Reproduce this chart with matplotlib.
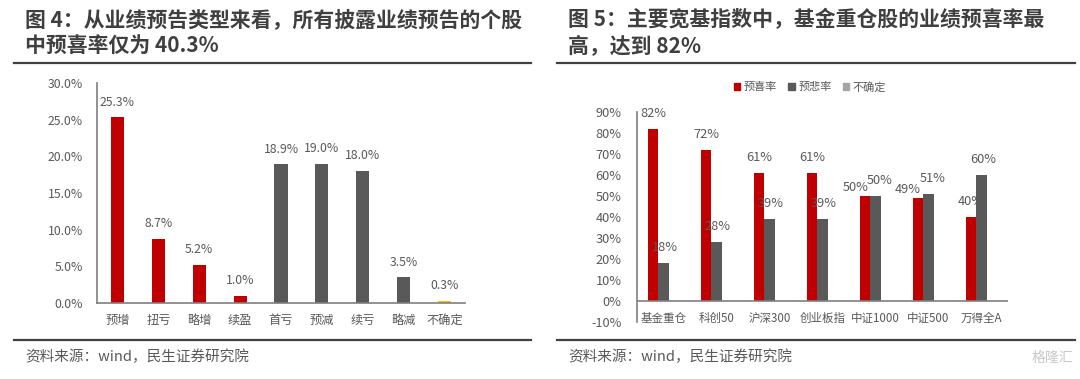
import matplotlib
matplotlib.use("Agg")
import matplotlib.pyplot as plt
from matplotlib.lines import Line2D
from matplotlib.patches import Rectangle
import numpy as np

plt.rcParams['font.family'] = ['Noto Sans CJK SC', 'DejaVu Sans']

# ---------------- data ----------------
types = ['预增', '扭亏', '略增', '续盈', '首亏', '预减', '续亏', '略减', '不确定']
type_share = [25.3, 8.7, 5.2, 1.0, 18.9, 19.0, 18.0, 3.5, 0.3]
type_group = ['pos', 'pos', 'pos', 'pos', 'neg', 'neg', 'neg', 'neg', 'unk']

indices = ['基金重仓', '科创50', '沪深300', '创业板指', '中证1000', '中证500', '万得全A']
rate_up = [82, 72, 61, 61, 50, 49, 40]
rate_down = [18, 28, 39, 39, 50, 51, 60]
rate_unk = [0, 0, 0, 0, 0, 0, 0]
series_names = ['预喜率', '预悲率', '不确定']

title4 = '图 4：从业绩预告类型来看，所有披露业绩预告的个股\n中预喜率仅为 40.3%'
title5 = '图 5：主要宽基指数中，基金重仓股的业绩预喜率最\n高，达到 82%'
source = '资料来源：wind，民生证券研究院'

RED = '#C00000'
DARK = '#595959'
LIGHT = '#A5A5A5'
GOLD = '#FFC000'
TXT = '#595959'
TITLE = '#3F3F3F'
AXC = '#7F7F7F'

W, H = 1080, 379
fig = plt.figure(figsize=(W / 100, H / 100), dpi=100)
fig.patch.set_facecolor('white')

def fx(px):
    return px / W

def fy(py):
    return 1 - py / H

# ---------------- titles, rules, sources ----------------
for x0, t in [(25, title4), (568, title5)]:
    fig.text(fx(x0), fy(9), t, fontsize=15, fontweight='bold', color=TITLE,
             ha='left', va='top', linespacing=1.28)

for (a, b) in [(14, 531), (557, 1075)]:
    for yy in (63, 340):
        fig.add_artist(Line2D([fx(a), fx(b)], [fy(yy), fy(yy)], color='#404040',
                              lw=1.6, transform=fig.transFigure))

fig.text(fx(25), fy(357), source, fontsize=10.5, color=TXT, ha='left', va='center')
fig.text(fx(568), fy(357), source, fontsize=10.5, color=TXT, ha='left', va='center')
fig.text(fx(1073), fy(358), '格隆汇', fontsize=10, color='#C8C8C8', ha='right', va='center')

# ---------------- Figure 4 ----------------
ax1 = fig.add_axes([fx(97), fy(303), fx(465 - 97), (303 - 83) / H])
x = np.arange(len(types))
cmap = {'pos': RED, 'neg': DARK, 'unk': GOLD}
cols = [cmap[g] for g in type_group]
ax1.bar(x, type_share, width=0.32, color=cols)
ax1.set_xlim(-0.5, len(types) - 0.5)
ax1.set_ylim(0, 30)
ax1.set_yticks(np.arange(0, 30.1, 5))
ax1.set_yticklabels([f'{v:.1f}%' for v in np.arange(0, 30.1, 5)])
ax1.set_xticks(x)
ax1.set_xticklabels(types)
ax1.tick_params(axis='both', length=0, colors=TXT, labelsize=8.8)
ax1.tick_params(axis='y', pad=10)
ax1.tick_params(axis='x', pad=8)
for s in ['top', 'right']:
    ax1.spines[s].set_visible(False)
for s in ['left', 'bottom']:
    ax1.spines[s].set_color(AXC)
    ax1.spines[s].set_linewidth(1.2)
for xi, v in zip(x, type_share):
    ax1.annotate(f'{v:.1f}%', (xi, v), xytext=(0, 11), textcoords='offset points',
                 ha='center', va='center', fontsize=8.8, color=TXT)
ax1.patch.set_alpha(0)

# ---------------- Figure 5 ----------------
ax2 = fig.add_axes([fx(637), fy(322), fx(1008 - 637), (322 - 112) / H])
xi2 = np.arange(len(indices))
bw = 0.2
ax2.bar(xi2 - bw, rate_up, width=bw, color=RED, label=series_names[0])
ax2.bar(xi2, rate_down, width=bw, color=DARK, label=series_names[1])
ax2.bar(xi2 + bw, rate_unk, width=bw, color=LIGHT, label=series_names[2])
ax2.set_xlim(-0.5, len(indices) - 0.5)
ax2.set_ylim(-10, 90)
ax2.set_yticks(np.arange(-10, 91, 10))
ax2.set_yticklabels([f'{v}%' for v in range(-10, 91, 10)])
ax2.set_xticks([])
ax2.tick_params(axis='y', length=0, colors=TXT, labelsize=9.2, pad=11)
for s in ['top', 'right', 'bottom']:
    ax2.spines[s].set_visible(False)
ax2.spines['left'].set_color(AXC)
ax2.spines['left'].set_linewidth(1.2)
ax2.axhline(0, color=AXC, lw=1.2)
for i, name in enumerate(indices):
    ax2.text(i, -8.3, name, ha='center', va='center', fontsize=8.3, color=TXT)
for i, (u, d) in enumerate(zip(rate_up, rate_down)):
    close = abs(u - d) <= 2
    dxu, dyu = (-7, 6) if close else (0, 11)
    dxd = 3 if close else 1
    ax2.annotate(f'{u}%', (i - bw, u), xytext=(dxu, dyu), textcoords='offset points',
                 ha='center', va='center', fontsize=9.2, color=TXT)
    ax2.annotate(f'{d}%', (i, d), xytext=(dxd, 11), textcoords='offset points',
                 ha='center', va='center', fontsize=9.2, color=TXT)
ax2.patch.set_alpha(0)

handles = [Rectangle((0, 0), 1, 1, color=c) for c in (RED, DARK, LIGHT)]
fig.legend(handles, series_names, loc='center', bbox_to_anchor=(fx(810), fy(87)),
           ncol=3, frameon=False, fontsize=8, handlelength=0.6, handleheight=0.6,
           handletextpad=0.3, columnspacing=1.0, labelcolor=TXT)

fig.savefig('out.png', dpi=100, facecolor='white')
